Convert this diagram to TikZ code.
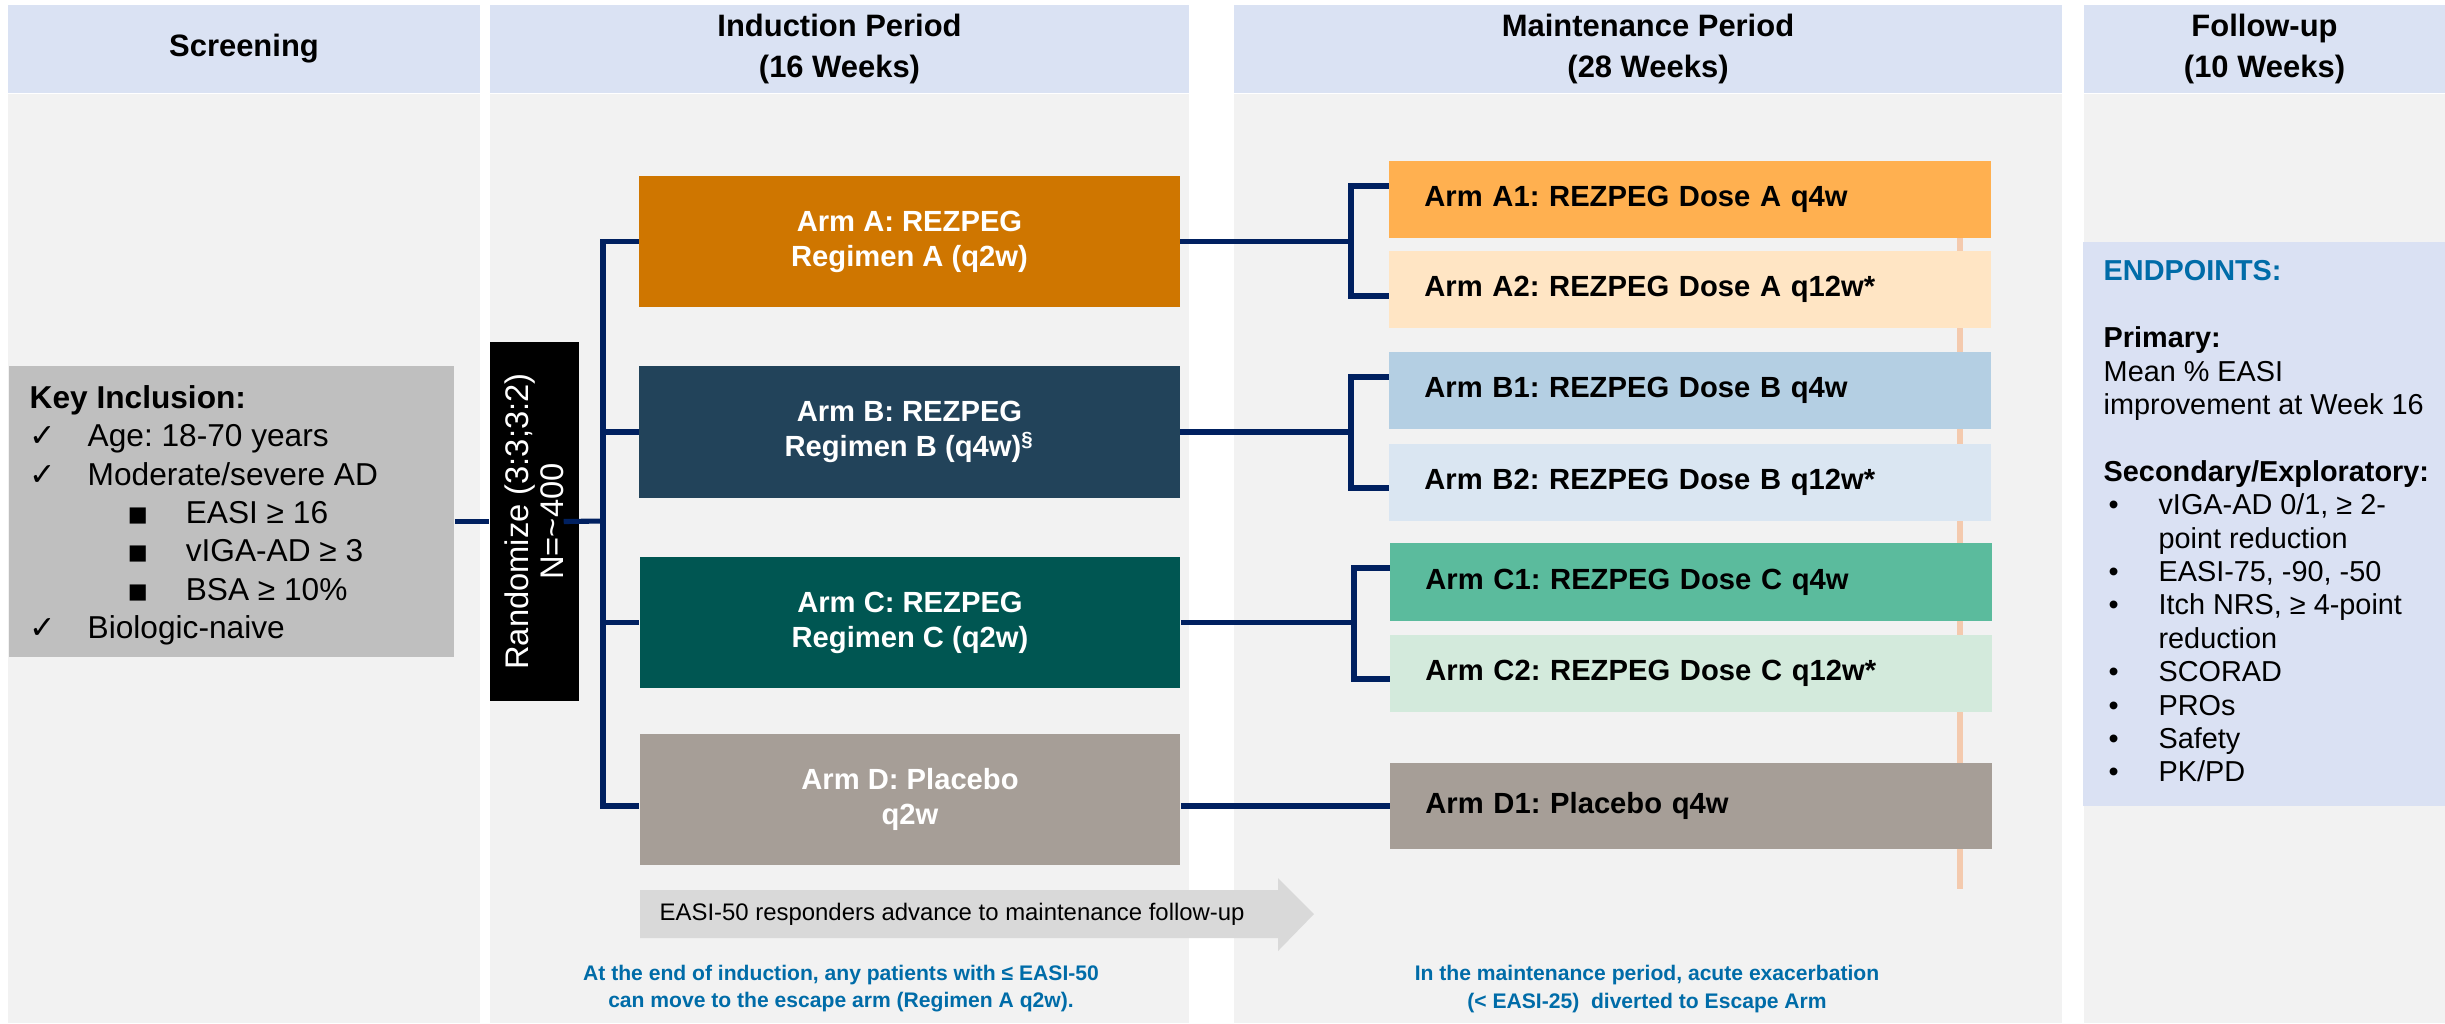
\documentclass[tikz,border=0pt]{standalone}
\usepackage{fontspec}
\setmainfont{Liberation Sans}
\newfontfamily\djv{DejaVu Sans}
\usetikzlibrary{calc}
\frenchspacing
\definecolor{hdr}{RGB}{218,226,243}
\definecolor{bodyg}{RGB}{242,242,242}
\definecolor{keyg}{RGB}{191,191,191}
\definecolor{navy}{RGB}{0,32,96}
\definecolor{armAc}{RGB}{207,118,0}
\definecolor{armBc}{RGB}{34,67,90}
\definecolor{armCc}{RGB}{0,86,82}
\definecolor{armDc}{RGB}{166,158,151}
\definecolor{cA1}{RGB}{255,176,80}
\definecolor{cA2}{RGB}{255,229,196}
\definecolor{cB1}{RGB}{180,207,227}
\definecolor{cB2}{RGB}{218,230,242}
\definecolor{cC1}{RGB}{91,187,157}
\definecolor{cC2}{RGB}{211,234,220}
\definecolor{peach}{RGB}{244,202,174}
\definecolor{arrg}{RGB}{217,217,217}
\definecolor{noteblue}{RGB}{0,108,168}
\definecolor{epfill}{RGB}{218,225,243}
\newcommand\epbul{\hspace*{1.4pt}\makebox[14.2pt][l]{•}}
\newcommand\epind{\hspace*{15.6pt}}
\newcommand\kchk{\makebox[16.5pt][l]{\djv ✓}}
\newcommand\ksq{\hspace*{27.9pt}\makebox[16.5pt][l]{\raisebox{0.6pt}{\djv\fontsize{6pt}{6pt}\selectfont ■}}}
\begin{document}
\begin{tikzpicture}[x=0.01cm,y=-0.01cm,
  hdrbox/.style={fill=hdr, inner sep=0, align=center, minimum height=0.88cm,
    font=\fontsize{8.8pt}{11.7pt}\selectfont\bfseries},
  armbox/.style={minimum width=5.4cm, minimum height=1.31cm, inner sep=0, align=center,
    text=white, font=\fontsize{8.3pt}{10pt}\selectfont\bfseries},
  mbox/.style={minimum height=0.77cm, text width=5.31cm, inner xsep=0.35cm, inner ysep=0,
    align=left, font=\fontsize{8.3pt}{10pt}\selectfont\bfseries},
  conn/.style={draw=navy, line width=1.45pt},
  note/.style={align=center, text=noteblue, inner sep=0,
    font=\fontsize{6pt}{7.7pt}\selectfont\bfseries}
]
\useasboundingbox (0,0) rectangle (2445,1023);
\fill[white] (0,0) rectangle (2445,1023);
% column bodies
\fill[bodyg] (8,94) rectangle (480,1023);
\fill[bodyg] (490,94) rectangle (1189,1023);
\fill[bodyg] (1234,94) rectangle (2062,1023);
\fill[bodyg] (2084,94) rectangle (2445,1023);
% headers
\node[hdrbox, minimum width=4.72cm] (hS) at (244,49) {Screening};
\node[hdrbox, minimum width=6.99cm] (hI) at (839.5,49) {Induction Period\\(16 Weeks)};
\node[hdrbox, minimum width=8.28cm] (hM) at (1648,49) {Maintenance Period\\(28 Weeks)};
\node[hdrbox, minimum width=3.61cm] (hF) at (2264.5,49) {Follow-up\\(10 Weeks)};

% key inclusion
\node[fill=keyg, minimum width=4.45cm, minimum height=2.91cm, inner sep=0] (key) at (231.5,511.5) {};
\node[anchor=north west, align=left, inner sep=0, font=\fontsize{9pt}{10.9pt}\selectfont] (keytxt) at (29,385)
 {{\bfseries Key Inclusion:}\\
  \kchk Age: 18-70 years\\
  \kchk Moderate/severe AD\\
  \ksq EASI ≥ 16\\
  \ksq vIGA-AD ≥ 3\\
  \ksq BSA ≥ 10\%\\
  \kchk Biologic-naive};

% randomize
\node[fill=black, minimum width=0.89cm, minimum height=3.59cm, inner sep=0] (rand) at (534.5,521.5) {};
\node[rotate=90, align=center, text=white, inner sep=0, font=\fontsize{9.3pt}{10pt}\selectfont] (randtxt) at (rand.center)
 {Randomize (3:3;3:2)\\N=\textasciitilde 400};

% induction arms
\node[armbox, fill=armAc] (armA) at (909.5,241.5) {Arm A: REZPEG\\Regimen A (q2w)};
\node[armbox, fill=armBc] (armB) at (909.5,432) {Arm B: REZPEG\\Regimen B (q4w)\textsuperscript{§}};
\node[armbox, fill=armCc] (armC) at (910,622.5) {Arm C: REZPEG\\Regimen C (q2w)};
\node[armbox, fill=armDc] (armD) at (910,799.5) {Arm D: Placebo\\q2w};

% peach line behind maintenance boxes
\coordinate (pTop) at (1960,200);
\coordinate (pBot) at (1960,889);
\draw[peach, line width=1.7pt] (pTop) -- (pBot);

% maintenance arms
\node[mbox, fill=cA1] (a1) at (1690,199.5) {Arm A1: REZPEG Dose A q4w};
\node[mbox, fill=cA2] (a2) at (1690,289.5) {Arm A2: REZPEG Dose A q12w*};
\node[mbox, fill=cB1] (b1) at (1690,390.5) {Arm B1: REZPEG Dose B q4w};
\node[mbox, fill=cB2] (b2) at (1690,482.5) {Arm B2: REZPEG Dose B q12w*};
\node[mbox, fill=cC1] (c1) at (1691,582) {Arm C1: REZPEG Dose C q4w};
\node[mbox, fill=cC2] (c2) at (1691,673.5) {Arm C2: REZPEG Dose C q12w*};
\node[mbox, fill=armDc, minimum height=0.86cm] (d1) at (1691,806) {Arm D1: Placebo q4w};

% connectors
\coordinate (trk) at (603,521);
\draw[conn] (key.east |- rand.west) -- (rand.west);
\draw[conn] ($(rand.east)+(-16,0)$) -- (trk);
\draw[conn] (armA.west) -| (trk);
\draw[conn] (armB.west) -| (trk);
\draw[conn] (armC.west) -| (trk);
\draw[conn] (armD.west |- d1.west) -| (trk);

\coordinate (bA) at (1351,241.5);
\coordinate (bAt) at (1351,186);
\coordinate (bAb) at (1351,296);
\draw[conn] (armA.east) -- (bA);
\draw[conn] (a1.west |- bAt) -- (bAt) -- (bAb) -- (a2.west |- bAb);

\coordinate (bB) at (1351,432);
\coordinate (bBt) at (1351,377);
\coordinate (bBb) at (1351,488);
\draw[conn] (armB.east) -- (bB);
\draw[conn] (b1.west |- bBt) -- (bBt) -- (bBb) -- (b2.west |- bBb);

\coordinate (bC) at (1354,622.5);
\coordinate (bCt) at (1354,568);
\coordinate (bCb) at (1354,679);
\draw[conn] (armC.east) -- (bC);
\draw[conn] (c1.west |- bCt) -- (bCt) -- (bCb) -- (c2.west |- bCb);

\draw[conn] (armD.east |- d1.west) -- (d1.west);

% grey arrow
\fill[arrg] (640,890) -- (1278,890) -- (1278,878) -- (1314,914) -- (1278,951) -- (1278,938) -- (640,938) -- cycle;
\node[anchor=west, inner sep=0, font=\fontsize{6.8pt}{8pt}\selectfont] (arrtxt) at (659,914)
 {EASI-50 responders advance to maintenance follow-up};

% notes
\node[note] (note1) at (841,989) {At the end of induction, any patients with ≤ EASI-50\\can move to the escape arm (Regimen A q2w).};
\node[note] (note2) at (1647,989) {In the maintenance period, acute exacerbation\\(< EASI-25)\ \ diverted to Escape Arm};

% endpoints
\node[fill=epfill, minimum width=3.62cm, minimum height=5.64cm, inner sep=0] (epbox) at (2264,524) {};
\node[anchor=north west, align=left, inner sep=0, font=\fontsize{8.2pt}{9.5pt}\selectfont] (eptxt) at (2103,260)
 {{\bfseries\color{noteblue}ENDPOINTS:}\\[9.5pt]
  {\bfseries Primary:}\\
  Mean \% EASI\\
  improvement at Week 16\\[9.5pt]
  {\bfseries Secondary/Exploratory:}\\
  \epbul vIGA-AD 0/1, ≥ 2-\\
  \epind point reduction\\
  \epbul EASI-75, -90, -50\\
  \epbul Itch NRS, ≥ 4-point\\
  \epind reduction\\
  \epbul SCORAD\\
  \epbul PROs\\
  \epbul Safety\\
  \epbul PK/PD};
\end{tikzpicture}
\end{document}
